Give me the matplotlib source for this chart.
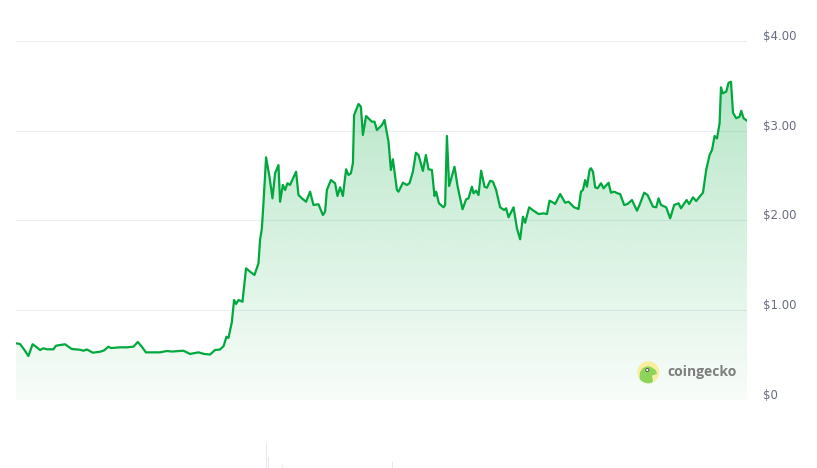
import numpy as np
import matplotlib.pyplot as plt
from matplotlib.patches import Polygon, Circle
from matplotlib import transforms

# Precio (USD) a lo largo de ~1 año
dias = [0, 2, 4, 6.2, 8.3, 10, 12, 13.7, 15.5, 18.7, 20, 24.5, 27.9, 32, 33.7, 35.5,
        38.4, 42, 44, 46.2, 47.5, 52, 55.4, 58.7, 60.9, 62.9, 64.9, 67, 72, 75.4, 78,
        83.7, 87, 91.2, 94, 97, 99.5, 102, 103.8, 105.2, 106.2, 107.9, 109, 110, 111.2,
        113.2, 115, 117, 119.2, 121.2, 122, 122.9, 123.7, 125, 126.7, 128.2, 129.5,
        131.2, 132, 133.4, 134.5, 135.7, 137, 140, 141.2, 142.9, 145, 147, 148.7, 151.2,
        153.4, 154.5, 155.4, 157.4, 159.5, 160.7, 162, 163.4, 165, 166.2, 167.4, 168.4,
        169, 171.2, 172.4, 173.4, 175, 177.9, 179.2, 180.4, 182.9, 184.2, 186.2, 187.4,
        188.4, 190.4, 191.2, 193.4, 195.4, 196.7, 198.4, 199.9, 201.2, 203.4, 204.9,
        206.2, 207.9, 209.2, 210, 211.4, 213.7, 214.5, 215.4, 216.5, 219.2, 220.8, 223.2,
        225, 226.2, 227.9, 228.7, 230, 231.2, 232.5, 234.2, 235.4, 237, 238.4, 240, 242,
        244, 245, 246.2, 248.7, 250.4, 252, 253.4, 254.5, 256.5, 258.7, 261.2, 263.7,
        265.4, 266.7, 268.7, 269.5, 272, 274.5, 276.2, 279, 281.2, 282.4, 283.4, 284.5,
        285.4, 286.7, 287.4, 288.4, 289.5, 290.7, 292.4, 293.7, 296.2, 297.4, 299, 300.7,
        302, 304, 305.7, 307.9, 310.4, 311.7, 314, 315.7, 318.4, 320, 321.2, 322.4, 325,
        327, 329, 331.2, 332.4, 335.2, 336.5, 338.4, 340, 342, 343.4, 345, 346.7, 347.9,
        349.2, 350.4, 351.7, 352.4, 353.2, 355, 356.2, 357.4, 358.4, 360, 361.7, 362.5,
        363.7, 365.4]
precios = [0.632, 0.624, 0.565, 0.490, 0.621, 0.594, 0.557, 0.576, 0.565, 0.565, 0.605,
           0.621, 0.568, 0.560, 0.549, 0.563, 0.527, 0.538, 0.552, 0.594, 0.579, 0.587,
           0.587, 0.594, 0.646, 0.594, 0.531, 0.531, 0.531, 0.546, 0.540, 0.549, 0.513,
           0.531, 0.513, 0.507, 0.557, 0.563, 0.602, 0.705, 0.691, 0.869, 1.114, 1.070,
           1.114, 1.095, 1.467, 1.430, 1.393, 1.523, 1.783, 1.913, 2.192, 2.704, 2.488,
           2.247, 2.526, 2.618, 2.209, 2.396, 2.340, 2.415, 2.396, 2.544, 2.284, 2.247,
           2.209, 2.321, 2.173, 2.181, 2.061, 2.098, 2.340, 2.451, 2.415, 2.273, 2.370,
           2.273, 2.571, 2.507, 2.526, 2.637, 3.175, 3.298, 3.268, 2.953, 3.164, 3.101,
           3.101, 3.008, 3.064, 3.120, 2.878, 2.563, 2.682, 2.340, 2.321, 2.421, 2.396,
           2.415, 2.544, 2.755, 2.730, 2.552, 2.730, 2.571, 2.563, 2.273, 2.321, 2.192,
           2.147, 2.173, 2.942, 2.384, 2.599, 2.373, 2.125, 2.236, 2.247, 2.377, 2.303,
           2.332, 2.284, 2.555, 2.377, 2.365, 2.443, 2.432, 2.340, 2.147, 2.117, 2.136,
           2.036, 2.147, 1.913, 1.791, 2.042, 1.975, 2.147, 2.109, 2.072, 2.080, 2.072,
           2.221, 2.198, 2.184, 2.295, 2.198, 2.209, 2.147, 2.128, 2.321, 2.340, 2.451,
           2.377, 2.563, 2.582, 2.544, 2.370, 2.359, 2.415, 2.359, 2.421, 2.310, 2.321,
           2.303, 2.295, 2.173, 2.184, 2.228, 2.109, 2.173, 2.310, 2.284, 2.154, 2.147,
           2.247, 2.173, 2.147, 2.024, 2.173, 2.192, 2.136, 2.228, 2.184, 2.258, 2.217,
           2.273, 2.310, 2.563, 2.730, 2.785, 2.942, 2.914, 3.083, 3.484, 3.417, 3.435,
           3.535, 3.546, 3.201, 3.139, 3.157, 3.223, 3.139, 3.112]

# Volumen visible (barras tenues abajo)
vol_dias = [125.3, 126.2, 133.2, 188.2]
vol_valores = [25, 11, 3, 6]

y_ticks = [0, 1, 2, 3, 4]
y_etiquetas = ["$0", "$1.00", "$2.00", "$3.00", "$4.00"]

verde = "#00a83e"
W, H = 817, 468

fig = plt.figure(figsize=(W / 100, H / 100), dpi=100)
ax = fig.add_axes([16 / W, (H - 400) / H, 731 / W, 359 / H])
ax.set_xlim(dias[0], dias[-1])
ax.set_ylim(0, 4)
ax.axis("off")

for v in y_ticks:
    ax.axhline(v, color="#ebedf0", lw=0.8, zorder=0)

# Relleno con degradado bajo la curva
d = np.array(dias)
p = np.array(precios)
verts = np.column_stack([np.r_[d[0], d, d[-1]], np.r_[0, p, 0]])
poly = Polygon(verts, closed=True, facecolor="none", edgecolor="none")
ax.add_patch(poly)
g = np.linspace(0, 1, 256)
rgba = np.zeros((256, 1, 4))
rgba[:, 0, 0], rgba[:, 0, 1], rgba[:, 0, 2] = 0 / 255, 168 / 255, 62 / 255
rgba[:, 0, 3] = 0.03 + 0.25 * g
im = ax.imshow(rgba, extent=[d[0], d[-1], 0, p.max()], origin="lower",
               aspect="auto", zorder=1, interpolation="bilinear")
im.set_clip_path(poly)

ax.plot(d, p, color=verde, lw=1.6, zorder=3, solid_joinstyle="round")

trans = transforms.offset_copy(ax.get_yaxis_transform(), fig=fig, x=16, y=4.5, units="dots")
for v, lab in zip(y_ticks, y_etiquetas):
    ax.text(1.0, v, lab, transform=trans, ha="left", va="center",
            fontsize=8.5, color="#686c80")

# Volumen
axv = fig.add_axes([16 / W, 0, 731 / W, 48 / H])
axv.set_xlim(dias[0], dias[-1])
axv.set_ylim(0, 48)
axv.axis("off")
axv.bar(vol_dias, vol_valores, width=0.6, color="#e3e8ee")

# Marca de agua coingecko (en píxeles)
px = transforms.IdentityTransform()
circ = Circle((648.3, H - 372.3), 11, facecolor="#f8eea0", edgecolor="none", transform=px)
fig.add_artist(circ)
cabeza = [(639, 385), (640, 372), (643, 368), (648, 366), (652, 367.5), (656, 370.5),
          (657, 374), (652, 375.5), (653, 381), (650, 386)]
gecko = Polygon([(x, H - y) for x, y in cabeza], closed=True, facecolor="#8cd45a",
                edgecolor="none", transform=px)
fig.add_artist(gecko)
gecko.set_clip_path(circ)
fig.add_artist(Circle((647.3, H - 370), 1.6, facecolor="#ffffff", edgecolor="#4a4a4a",
                      lw=0.6, transform=px))
fig.text(667.5 / W, (H - 371.7) / H, "coingecko", fontsize=10, fontweight="bold",
         family="Open Sans", color="#7d7d7d", ha="left", va="center")

fig.savefig("out.png", dpi=100)
